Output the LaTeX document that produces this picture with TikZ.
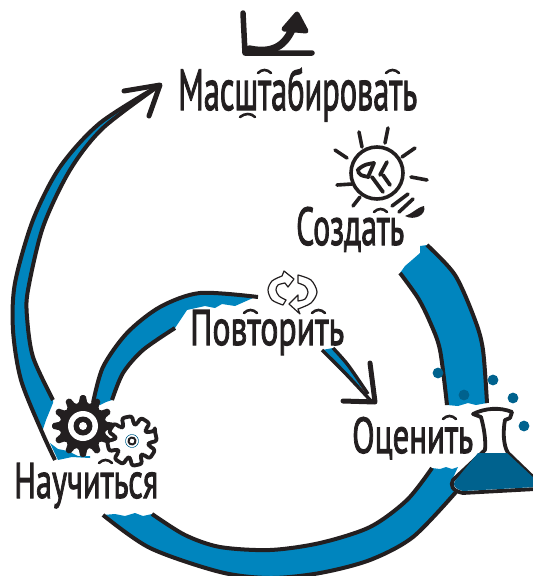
\documentclass[tikz,border=0pt]{standalone}
\usepackage{fontspec}
\usepackage{graphicx}
\newfontfamily\handfont[FakeBold=2.2]{PT Sans}
\usetikzlibrary{positioning}
\definecolor{ribbonblue}{HTML}{0085BE}
\definecolor{deepblue}{HTML}{00628E}
\definecolor{inkblack}{HTML}{231F20}
\newcommand{\handtext}[3]{\resizebox{#1pt}{#2pt}{\handfont #3}}
\begin{document}
\begin{tikzpicture}[
  x=1pt, y=-1pt,
  ribbon/.style={fill=ribbonblue},
  edge/.style={draw=inkblack, line width=4pt},
  head/.style={draw=inkblack, line width=5pt, line cap=round, line join=round},
  ray/.style={draw=inkblack, line width=3.6pt, line cap=round},
  flourish/.style={draw=inkblack, line width=2.6pt, line cap=round},
  dot/.style={fill=deepblue},
  label/.style={anchor=base west, inner sep=0pt, text=inkblack}
]
\useasboundingbox (0,0) rectangle (533,576);
\clip (0,0) rectangle (533,576);
\coordinate (scaletip) at (160,85);
\coordinate (evaltip) at (375,402);
\coordinate (bulb) at (377,173);
\coordinate (bigcog) at (83,426);
\coordinate (smallcog) at (132,441);

\fill[ribbon] plot[smooth] coordinates {(427,245) (455,275) (475,320) (483,350) (487,403)} -- (476,405) -- (468,403) -- (458,406) -- (447,405)
  -- plot[smooth] coordinates {(447,405) (440,350) (430,322) (418,298) (400,273)} -- (405,266) -- (412,260) -- (420,253) -- (420,246) -- cycle;
\draw[edge] plot[smooth] coordinates {(427,245) (455,275) (475,320) (483,350) (487,403)};
\draw[edge] plot[smooth] coordinates {(400,273) (418,298) (430,322) (440,350) (447,405)};

\fill[ribbon] plot[smooth] coordinates {(103,515) (150,548) (220,572) (270,578) (320,573) (370,560) (413,537) (456,492)} -- (452,480) -- (458,467) -- (452,469) -- (446,467) -- (440,469) -- (432,468)
  -- plot[smooth] coordinates {(432,468) (407,500) (370,527) (320,543) (270,550) (220,547) (185,535) (152,514)} -- (143,516) -- (135,513) -- (125,516) -- (115,514) -- cycle;
\draw[edge] plot[smooth] coordinates {(103,515) (150,548) (220,572) (270,578) (320,573) (370,560) (413,537) (456,492)};
\draw[edge] plot[smooth] coordinates {(432,468) (407,500) (370,527) (320,543) (270,550) (220,547) (185,535) (152,514)};

\fill[ribbon] plot[smooth] coordinates {(160,85) (100,123) (60,167) (33,220) (15,283) (13,330) (21,380) (42,432)} -- (46,420) -- (53,403)
  -- plot[smooth] coordinates {(53,400) (33,357) (27,317) (28,290) (43,227) (70,170) (103,128) (160,85)} -- cycle;
\draw[edge] plot[smooth] coordinates {(160,85) (100,123) (60,167) (33,220) (15,283) (13,330) (21,380) (42,432) (55,460)};
\draw[edge] plot[smooth] coordinates {(53,400) (33,357) (27,317) (28,290) (43,227) (70,170) (103,128) (160,85)};
\fill[ribbon] (50,443) -- (58,460) -- (72,457) -- (90,458) -- (90,456) -- (78,456) -- (68,451) -- (58,449) -- cycle;
\draw[head] (124,91) -- (scaletip) -- (149,116);

\fill[ribbon] plot[smooth] coordinates {(258,297) (200,293) (160,307) (127,333) (103,367) (93,403)} -- (100,405) -- (106,402) -- (112,400)
  -- plot[smooth] coordinates {(112,400) (123,373) (143,350) (175,328)} -- (187,310) -- (205,306) -- (215,308) -- (222,304) -- (235,306) -- (253,298) -- cycle;
\draw[edge] plot[smooth] coordinates {(258,297) (200,293) (160,307) (127,333) (103,367) (93,403)};
\draw[edge] plot[smooth] coordinates {(112,400) (123,373) (143,350) (175,328)};

\fill[ribbon] plot[smooth] coordinates {(333,348) (348,365) (365,390)} -- plot[smooth] coordinates {(365,390) (345,375) (322,350)} -- cycle;
\draw[edge, line width=3.4pt] plot[smooth] coordinates {(333,348) (348,365) (368,394)};
\draw[edge, line width=3.4pt] plot[smooth] coordinates {(322,350) (345,373) (372,402)};
\draw[head] (370,363) -- (evaltip) -- (343,401);

\draw[head, line width=5.5pt] (243,13) -- (245,53) -- (312,53);
\draw[head, line width=7.5pt] (249,49) .. controls (277,55) and (288,42) .. (295,22);
\fill[inkblack, draw=inkblack, line width=5pt, line join=round] (284,29) -- (297,14) -- (306,31) -- cycle;

\draw[inkblack, line width=3.6pt] (bulb) circle (26);
\foreach \xa/\ya/\xb/\yb in {359/132/362/147, 388/128/385/143, 415/148/402/157, 427/180/411/177, 352/184/337/185, 335/150/347/158, 360/197/353/206, 408/194/392/206, 413/199/399/212}
  \draw[ray] (\xa,\ya) -- (\xb,\yb);
\fill[inkblack] (424,206) .. controls (427,215) and (414,221) .. (405,216) .. controls (412,214) and (416,208) .. (424,206) -- cycle;
\draw[ray, line width=3.8pt] plot[smooth] coordinates {(374,163) (365,165) (358,170) (361,175) (369,177)};
\draw[ray, line width=3.8pt] (374,163) -- (368,177);
\draw[ray, line width=3.8pt] (387,162) -- (380,175);
\draw[ray, line width=3.8pt] (372,177) -- (383,192);
\draw[ray, line width=3.8pt] (383,175) -- (390,185);

\begin{scope}[shift={(bigcog)}]
  \fill[inkblack, rounded corners=1.5pt] (-6:31) \foreach \a in {0,30,...,330} { -- ({\a-5}:31) -- ({\a+5}:31) -- ({\a+11}:23) -- ({\a+19}:23) } -- cycle;
  \fill[white] (0,0) circle (15);
  \fill[inkblack] (0,0) circle (9.5);
  \fill[white] (0,0) circle (4);
\end{scope}
\begin{scope}[shift={(smallcog)}, rotate=12]
  \draw[inkblack, fill=white, line width=3.8pt, line join=round, rounded corners=2.5pt] (-12:25) \foreach \a in {0,45,...,315} { -- ({\a-12}:25) -- ({\a+12}:25) -- ({\a+18}:17) -- ({\a+27}:17) } -- cycle;
  \draw[deepblue, line width=.6pt] (0,0) circle (6.5);
  \draw[inkblack, line width=2pt] (0,0) circle (3.5);
\end{scope}

\draw[inkblack, fill=white, line width=1.2pt, line join=round] plot[smooth] coordinates {(283,305) (272,300) (268,290) (272,281) (282,276)} -- (284,271) -- (294,279) -- (288,287) -- (285,283) -- plot[smooth] coordinates {(285,283) (278,285) (276,290) (279,296) (286,300)} -- cycle;
\draw[inkblack, fill=white, line width=1.2pt, line join=round] plot[smooth] coordinates {(298,275) (311,280) (317,292) (311,303) (298,309)} -- (300,314) -- (289,304) -- (298,295) -- (298,301) -- plot[smooth] coordinates {(298,301) (305,299) (308,292) (305,286) (298,283)} -- cycle;

\foreach \px/\py in {438/373, 493/380, 464/395, 513/398, 524/426, 492/432}
  \fill[dot] (\px,\py) circle (5.4);

\draw[inkblack, fill=white, line width=3.8pt, line join=round] (473,414) .. controls (485,408) and (500,407) .. (512,412) -- (510,418) -- (505,420) .. controls (503,430) and (503,445) .. (508,453) -- (536,480) -- (536,489) -- (463,493) .. controls (452,491) and (450,485) .. (453,480) -- (485,450) .. controls (486,440) and (484,428) .. (481,417) -- cycle;
\fill[deepblue] (478,453) -- (507,453) -- (536,480) -- (536,487) -- (463,491) .. controls (455,489) and (452,485) .. (455,481) -- cycle;

\node[label] (scaleup) at (178,110) {\handtext{239}{42}{Масштабировать}};
\node[label] (create) at (296,245) {\handtext{108}{38}{Создать}};
\node[label] (again) at (190,345) {\handtext{154}{35}{Повторить}};
\node[label] (evaluate) at (352,453) {\handtext{121}{36}{Оценить}};
\node[label] (learn) at (14,498) {\handtext{144}{35}{Научиться}};

\foreach \xa/\ya in {258/73, 386/73, 374/212, 244/313, 312/313, 443/419, 99/463}
  \draw[flourish] (\xa,\ya) .. controls ({\xa+4},{\ya-4}) and ({\xa+9},{\ya-4}) .. ({\xa+13},\ya);
\draw[flourish] (240,117) .. controls (245,113) and (251,113) .. (255,117);
\end{tikzpicture}
\end{document}
